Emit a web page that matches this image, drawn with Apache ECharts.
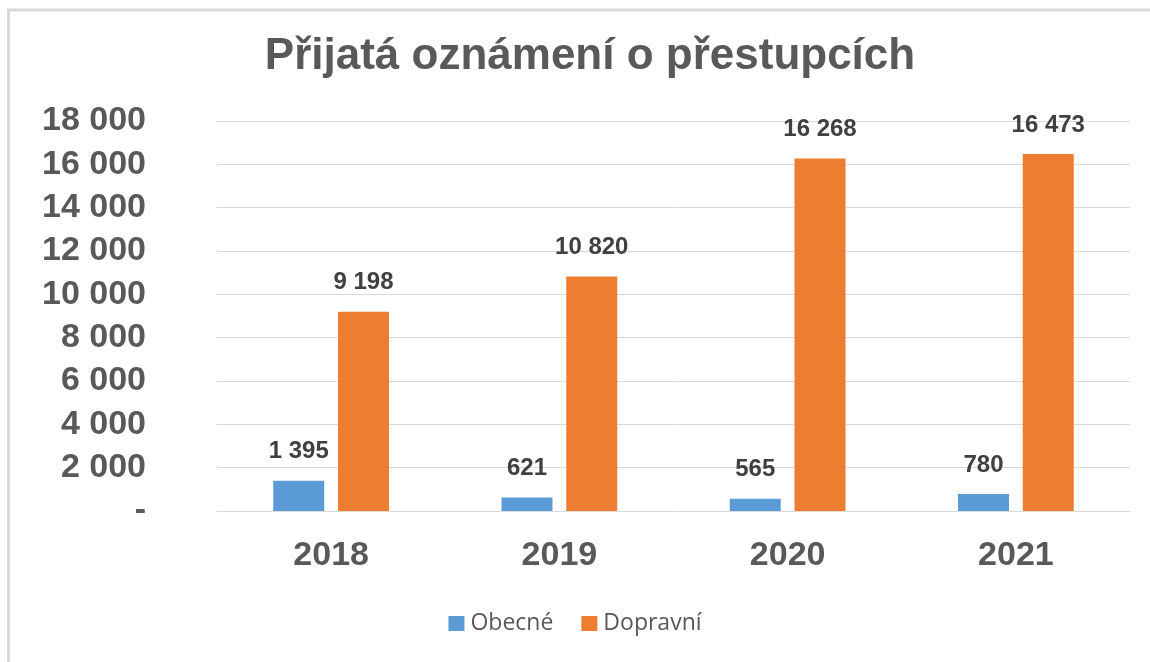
<!DOCTYPE html>
<html>
<head>
<meta charset="utf-8">
<style>html,body{margin:0;padding:0;background:#fff;}#c{width:1150px;height:662px;}</style>
<script src="https://cdn.jsdelivr.net/npm/echarts@6/dist/echarts.min.js"></script>
</head>
<body>
<div id="c"></div>
<script>
const titleText = 'Přijatá oznámení o přestupcích';
const categories = ['2018', '2019', '2020', '2021'];
const obecne = [1395, 621, 565, 780];
const dopravni = [9198, 10820, 16268, 16473];
const seriesNames = ['Obecné', 'Dopravní'];
const yMin = 0, yMax = 18000, yStep = 2000;

function fmt(v) {
  if (v === 0) return '-';
  return String(v).replace(/\B(?=(\d{3})+(?!\d))/g, ' ');
}

const chart = echarts.init(document.getElementById('c'));
const labelStyle = {
  show: true, position: 'top', distance: 17,
  fontFamily: 'Liberation Sans, Arial, sans-serif', fontWeight: 'bold', fontSize: 24, color: '#404040',
  formatter: p => fmt(p.value)
};
chart.setOption({
  animation: false,
  title: {
    text: titleText, left: 585, top: 30, textAlign: 'center',
    textStyle: { fontFamily: 'Liberation Sans, Arial, sans-serif', fontWeight: 'bold', fontSize: 44, color: '#595959' }
  },
  graphic: [
    { type: 'line', shape: { x1: 8.5, y1: 10, x2: 8.5, y2: 662 }, style: { stroke: '#d9d9d9', lineWidth: 3 } },
    { type: 'line', shape: { x1: 7, y1: 10, x2: 1150, y2: 10 }, style: { stroke: '#d9d9d9', lineWidth: 3 } }
  ],
  legend: {
    data: seriesNames, bottom: 22, left: 'center',
    icon: 'rect', itemWidth: 16, itemHeight: 15, itemGap: 28,
    textStyle: { fontFamily: 'Open Sans, Liberation Sans, sans-serif', fontSize: 23, color: '#595959', padding: [0, 0, 0, 1] }
  },
  grid: { left: 217, right: 20, top: 121, bottom: 151 },
  xAxis: {
    type: 'category', data: categories,
    axisLine: { lineStyle: { color: '#d9d9d9' } }, axisTick: { show: false },
    axisLabel: { margin: 28, fontFamily: 'Liberation Sans, Arial, sans-serif', fontWeight: 'bold', fontSize: 34, color: '#595959' }
  },
  yAxis: {
    type: 'value', min: yMin, max: yMax, interval: yStep,
    splitLine: { lineStyle: { color: '#d9d9d9' } },
    axisLine: { show: false }, axisTick: { show: false },
    axisLabel: { margin: 71, fontFamily: 'Liberation Sans, Arial, sans-serif', fontWeight: 'bold', fontSize: 34, color: '#595959', formatter: fmt }
  },
  series: [
    { name: seriesNames[0], type: 'bar', data: obecne, barWidth: 51, barGap: '27%', itemStyle: { color: '#5B9BD5' }, label: labelStyle },
    { name: seriesNames[1], type: 'bar', data: dopravni, barWidth: 51, barGap: '27%', itemStyle: { color: '#ED7D31' }, label: labelStyle }
  ]
});
</script>
</body>
</html>
